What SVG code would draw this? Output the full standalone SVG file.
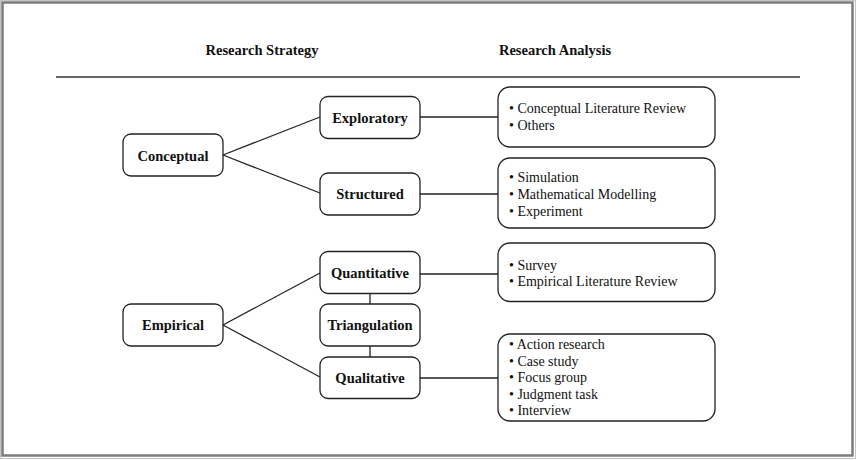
<svg xmlns="http://www.w3.org/2000/svg" width="856" height="460" viewBox="0 0 856 460">
  <style>
    .frame { fill: none; stroke: #7c7c7c; stroke-width: 2.5; }
    .frame-outer { fill: none; stroke: #c4c4c4; stroke-width: 1; }
    .head { font-family: "Liberation Serif", "Times New Roman", serif; font-weight: bold; font-size: 14.5px; fill: #111; text-anchor: middle; }
    .node rect { fill: #fff; stroke: #222; stroke-width: 1.3; }
    .node text { font-family: "Liberation Serif", "Times New Roman", serif; font-weight: bold; font-size: 14.5px; fill: #111; text-anchor: middle; }
    .list rect { fill: #fff; stroke: #222; stroke-width: 1.3; }
    .list text { font-family: "Liberation Serif", "Times New Roman", serif; font-size: 14px; fill: #111; }
    .links line { stroke: #222; stroke-width: 1.3; }
    .rule { stroke: #333; stroke-width: 1.3; }
  </style>

  <rect width="856" height="460" fill="#fff"/>
  <rect class="frame-outer" x="0.5" y="0.5" width="855" height="458"/>
  <rect class="frame" x="2.5" y="2.5" width="850" height="453"/>

  <!-- column headings -->
  <text class="head" x="262" y="55">Research Strategy</text>
  <text class="head" x="555" y="55">Research Analysis</text>
  <line class="rule" x1="56" y1="77" x2="800" y2="77"/>

  <!-- connectors -->
  <g id="connectors" class="links">
    <line x1="223" y1="155" x2="320" y2="117"/>
    <line x1="223" y1="155" x2="320" y2="193"/>
    <line x1="223" y1="325" x2="320" y2="273"/>
    <line x1="223" y1="325" x2="320" y2="377"/>
    <line x1="370" y1="293" x2="370" y2="304"/>
    <line x1="370" y1="346" x2="370" y2="357"/>
    <line x1="420" y1="117" x2="498" y2="117"/>
    <line x1="420" y1="194" x2="498" y2="194"/>
    <line x1="420" y1="274" x2="498" y2="274"/>
    <line x1="420" y1="378" x2="498" y2="378"/>
  </g>

  <!-- strategy nodes -->
  <g id="conceptual" class="node">
    <rect x="123" y="134" width="100" height="42" rx="8"/>
    <text x="173" y="160.5">Conceptual</text>
  </g>
  <g id="exploratory" class="node">
    <rect x="320" y="96.5" width="100" height="42" rx="8"/>
    <text x="370" y="122.5">Exploratory</text>
  </g>
  <g id="structured" class="node">
    <rect x="320" y="173" width="100" height="42" rx="8"/>
    <text x="370" y="199">Structured</text>
  </g>
  <g id="empirical" class="node">
    <rect x="123" y="304" width="100" height="42" rx="8"/>
    <text x="173" y="330">Empirical</text>
  </g>
  <g id="quantitative" class="node">
    <rect x="320" y="251.5" width="100" height="42" rx="8"/>
    <text x="370" y="277.5">Quantitative</text>
  </g>
  <g id="triangulation" class="node">
    <rect x="320" y="304" width="100" height="42" rx="8"/>
    <text x="370" y="330">Triangulation</text>
  </g>
  <g id="qualitative" class="node">
    <rect x="320" y="357" width="100" height="41.5" rx="8"/>
    <text x="370" y="382.5">Qualitative</text>
  </g>

  <!-- analysis lists -->
  <g id="analysis-exploratory" class="list">
    <rect x="498" y="87" width="217" height="60" rx="12"/>
    <text x="509" y="113">• Conceptual Literature Review</text>
    <text x="509" y="130">• Others</text>
  </g>
  <g id="analysis-structured" class="list">
    <rect x="498" y="158" width="217" height="70" rx="12"/>
    <text x="509" y="182">• Simulation</text>
    <text x="509" y="199">• Mathematical Modelling</text>
    <text x="509" y="215.5">• Experiment</text>
  </g>
  <g id="analysis-quantitative" class="list">
    <rect x="498" y="243" width="217" height="58.5" rx="12"/>
    <text x="509" y="269.5">• Survey</text>
    <text x="509" y="286">• Empirical Literature Review</text>
  </g>
  <g id="analysis-qualitative" class="list">
    <rect x="498" y="334" width="217" height="87" rx="12"/>
    <text x="509" y="348.5">• Action research</text>
    <text x="509" y="365.5">• Case study</text>
    <text x="509" y="382">• Focus group</text>
    <text x="509" y="398.5">• Judgment task</text>
    <text x="509" y="415">• Interview</text>
  </g>
</svg>
